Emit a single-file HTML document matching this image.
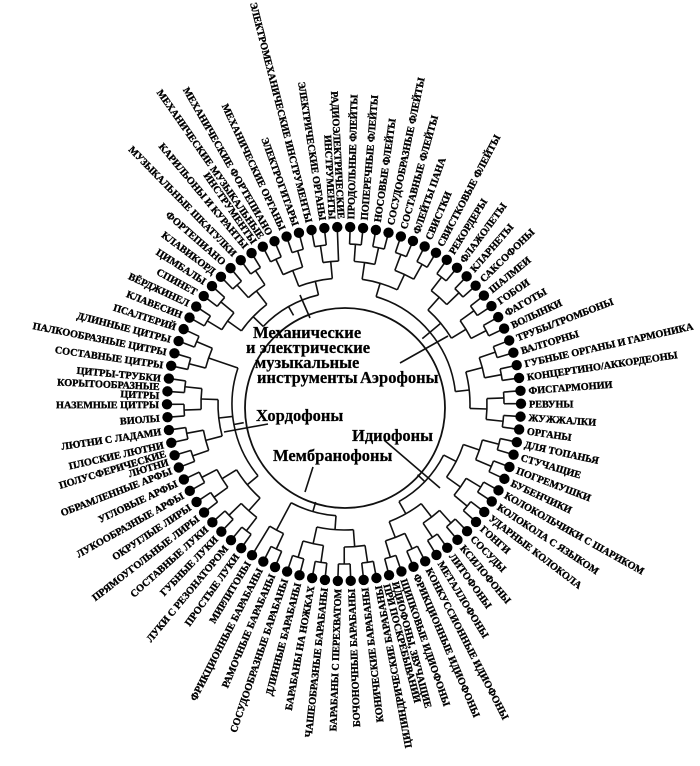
<!DOCTYPE html>
<html><head><meta charset="utf-8">
<style>
html,body{margin:0;padding:0;background:#fff;}
svg{display:block;}
.l{font-family:"Liberation Serif",serif;font-weight:bold;font-size:10.2px;fill:#000;stroke:#000;stroke-width:0.35;}
.c{font-family:"Liberation Serif",serif;font-weight:bold;font-size:16.5px;fill:#000;stroke:#000;stroke-width:0.25;}
</style></head>
<body>
<svg id="s" width="700" height="766" viewBox="0 0 700 766" xmlns="http://www.w3.org/2000/svg">
<g id="tree" stroke="#111" stroke-width="1.6" fill="none"></g>
<circle cx="345" cy="408" r="100" stroke="#111" stroke-width="1.8" fill="none"/>
<g id="dots"></g>
<g id="labels">
<text class="l">ПРОДОЛЬНЫЕ ФЛЕЙТЫ</text>
<text class="l">ПОПЕРЕЧНЫЕ ФЛЕЙТЫ</text>
<text class="l">НОСОВЫЕ ФЛЕЙТЫ</text>
<text class="l">СОСУДООБРАЗНЫЕ ФЛЕЙТЫ</text>
<text class="l">СОСТАВНЫЕ ФЛЕЙТЫ</text>
<text class="l">ФЛЕЙТЫ ПАНА</text>
<text class="l">СВИСТКИ</text>
<text class="l">СВИСТКОВЫЕ ФЛЕЙТЫ</text>
<text class="l">РЕКОРДЕРЫ</text>
<text class="l">ФЛАЖОЛЕТЫ</text>
<text class="l">КЛАРНЕТЫ</text>
<text class="l">САКСОФОНЫ</text>
<text class="l">ШАЛМЕИ</text>
<text class="l">ГОБОИ</text>
<text class="l">ФАГОТЫ</text>
<text class="l">ВОЛЫНКИ</text>
<text class="l">ТРУБЫ/ТРОМБОНЫ</text>
<text class="l">ВАЛТОРНЫ</text>
<text class="l">ГУБНЫЕ ОРГАНЫ И ГАРМОНИКА</text>
<text class="l">КОНЦЕРТИНО/АККОРДЕОНЫ</text>
<text class="l">ФИСГАРМОНИИ</text>
<text class="l">РЕВУНЫ</text>
<text class="l">ЖУЖЖАЛКИ</text>
<text class="l">ОРГАНЫ</text>
<text class="l">ДЛЯ ТОПАНЬЯ</text>
<text class="l">СТУЧАЩИЕ</text>
<text class="l">ПОГРЕМУШКИ</text>
<text class="l">БУБЕНЧИКИ</text>
<text class="l">КОЛОКОЛЬЧИКИ С ШАРИКОМ</text>
<text class="l">КОЛОКОЛА С ЯЗЫКОМ</text>
<text class="l">УДАРНЫЕ КОЛОКОЛА</text>
<text class="l">ГОНГИ</text>
<text class="l">СОСУДЫ</text>
<text class="l">КСИЛОФОНЫ</text>
<text class="l">ЛИТОФОНЫ</text>
<text class="l">МЕТАЛЛОФОНЫ</text>
<text class="l">КОНКУССИОННЫЕ ИДИОФОНЫ</text>
<text class="l">ФРИКЦИОННЫЕ ИДИОФОНЫ</text>
<text class="l">ЩИПКОВЫЕ ИДИОФОНЫ</text>
<text class="l"><tspan>ИДИОФОНЫ, ЗВУЧАЩИЕ</tspan><tspan>ПРИ ПОСКРЕБЫВАНИИ</tspan></text>
<text class="l">ЦИЛИНДРИЧЕСКИЕ БАРАБАНЫ</text>
<text class="l">КОНИЧЕСКИЕ БАРАБАНЫ</text>
<text class="l">БОЧОНОЧНЫЕ БАРАБАНЫ</text>
<text class="l">БАРАБАНЫ С ПЕРЕХВАТОМ</text>
<text class="l">ЧАШЕОБРАЗНЫЕ БАРАБАНЫ</text>
<text class="l">БАРАБАНЫ НА НОЖКАХ</text>
<text class="l">ДЛИННЫЕ БАРАБАНЫ</text>
<text class="l">СОСУДООБРАЗНЫЕ БАРАБАНЫ</text>
<text class="l">РАМОЧНЫЕ БАРАБАНЫ</text>
<text class="l">ФРИКЦИОННЫЕ БАРАБАНЫ</text>
<text class="l">МИРЛИТОНЫ</text>
<text class="l">ПРОСТЫЕ ЛУКИ</text>
<text class="l">ЛУКИ С РЕЗОНАТОРОМ</text>
<text class="l">ГУБНЫЕ ЛУКИ</text>
<text class="l">СОСТАВНЫЕ ЛУКИ</text>
<text class="l">ПРЯМОУГОЛЬНЫЕ ЛИРЫ</text>
<text class="l">ОКРУГЛЫЕ ЛИРЫ</text>
<text class="l">ЛУКООБРАЗНЫЕ АРФЫ</text>
<text class="l">УГЛОВЫЕ АРФЫ</text>
<text class="l">ОБРАМЛЕННЫЕ АРФЫ</text>
<text class="l"><tspan>ПОЛУСФЕРИЧЕСКИЕ</tspan><tspan>ЛЮТНИ</tspan></text>
<text class="l">ПЛОСКИЕ ЛЮТНИ</text>
<text class="l">ЛЮТНИ С ЛАДАМИ</text>
<text class="l">ВИОЛЫ</text>
<text class="l">НАЗЕМНЫЕ ЦИТРЫ</text>
<text class="l"><tspan>КОРЫТООБРАЗНЫЕ</tspan><tspan>ЦИТРЫ</tspan></text>
<text class="l">ЦИТРЫ-ТРУБКИ</text>
<text class="l">СОСТАВНЫЕ ЦИТРЫ</text>
<text class="l">ПАЛКООБРАЗНЫЕ ЦИТРЫ</text>
<text class="l">ДЛИННЫЕ ЦИТРЫ</text>
<text class="l">ПСАЛТЕРИЙ</text>
<text class="l">КЛАВЕСИН</text>
<text class="l">ВЁРДЖИНЕЛ</text>
<text class="l">СПИНЕТ</text>
<text class="l">ЦИМБАЛЫ</text>
<text class="l">КЛАВИКОРД</text>
<text class="l">ФОРТЕПИАНО</text>
<text class="l">МУЗЫКАЛЬНЫЕ ШКАТУЛКИ</text>
<text class="l">КАРИЛЬОНЫ И КУРАНТЫ</text>
<text class="l"><tspan>МЕХАНИЧЕСКИЕ МУЗЫКАЛЬНЫЕ</tspan><tspan>ИНСТРУМЕНТЫ</tspan></text>
<text class="l">МЕХАНИЧЕСКИЕ ФОРТЕПИАНО</text>
<text class="l">МЕХАНИЧЕСКИЕ ОРГАНЫ</text>
<text class="l">ЭЛЕКТРОГИТАРЫ</text>
<text class="l">ЭЛЕКТРОМЕХАНИЧЕСКИЕ ИНСТРУМЕНТЫ</text>
<text class="l">ЭЛЕКТРИЧЕСКИЕ ОРГАНЫ</text>
<text class="l"><tspan>РАДИОЭЛЕКТРИЧЕСКИЕ</tspan><tspan>ИНСТРУМЕНТЫ</tspan></text>
</g>
<g stroke="#111" stroke-width="1.6">
<line x1="400" y1="363" x2="448" y2="336"/>
<line x1="268" y1="424" x2="224" y2="432"/>
<line x1="384" y1="440" x2="440" y2="488"/>
<line x1="313" y1="467" x2="305" y2="492"/>
<line x1="310" y1="318" x2="300" y2="295"/>
</g>
<text class="c" x="253" y="338">Механические</text>
<text class="c" x="246" y="353">и электрические</text>
<text class="c" x="255" y="368">музыкальные</text>
<text class="c" x="257" y="383">инструменты</text>
<text class="c" x="360" y="383">Аэрофоны</text>
<text class="c" x="256" y="421">Хордофоны</text>
<text class="c" x="352" y="441">Идиофоны</text>
<text class="c" x="273" y="461">Мембранофоны</text>
</svg>
<script>
(function(){
var NS="http://www.w3.org/2000/svg";
var cx=344,cy=404,R=177,N=86,step=360/N,start=2;
function pt(r,d){var a=d*Math.PI/180;return [cx+r*Math.sin(a),cy-r*Math.cos(a)];}
var tree=document.getElementById('tree'),dots=document.getElementById('dots');
function el(p,tag,at){var e=document.createElementNS(NS,tag);for(var k in at)e.setAttribute(k,at[k]);p.appendChild(e);return e;}
function line(r1,r2,d){var a=pt(r1,d),b=pt(r2,d);el(tree,'line',{x1:a[0],y1:a[1],x2:b[0],y2:b[1]});}
function arc(r,d1,d2){var a=pt(r,d1),b=pt(r,d2);el(tree,'path',{d:'M'+a[0]+' '+a[1]+' A'+r+' '+r+' 0 0 1 '+b[0]+' '+b[1]});}
var labels=document.querySelectorAll('#labels text');
for(var i=0;i<N;i++){
  var d=start+i*step;var p=pt(R,d);
  el(dots,'circle',{cx:p[0],cy:p[1],r:5.2,fill:'#000'});
  var t=labels[i];var inward=(d>167);
  var dd=d;
  if(d>270) dd=d-0.4*(360-d)*(d-270)/90;
  else if(d<60) dd=d-0.25*d*(60-d)/60;
  var rot=inward?dd+90:dd-90;var x=inward?-8:8;
  t.setAttribute('transform','translate('+p[0]+' '+p[1]+') rotate('+rot+')');
  t.setAttribute('text-anchor',inward?'end':'start');
  var ts=t.querySelectorAll('tspan');
  if(ts.length){ts[0].setAttribute('x',x);ts[0].setAttribute('y',-1);ts[1].setAttribute('x',x);ts[1].setAttribute('y',8);}
  else{t.setAttribute('x',x);t.setAttribute('y',3.8);}
}
var cats=[[0,23],[24,39],[40,50],[51,70],[71,85]];
var radii=[160,143,126];
cats.forEach(function(c){
  var nodes=[];for(var i=c[0];i<=c[1];i++)nodes.push({a:start+i*step,r:R-4});
  radii.forEach(function(rr){
    var nn=[];
    for(var j=0;j<nodes.length;j+=2){
      if(j+1<nodes.length){var A=nodes[j],B=nodes[j+1];
        line(A.r,rr,A.a);line(B.r,rr,B.a);arc(rr,A.a,B.a);
        nn.push({a:(A.a+B.a)/2,r:rr});}
      else nn.push(nodes[j]);
    }
    nodes=nn;
  });
  if(nodes.length>1){var rr=112;nodes.forEach(function(n){line(n.r,rr,n.a);});arc(rr,nodes[0].a,nodes[nodes.length-1].a);
    line(rr,102,(nodes[0].a+nodes[nodes.length-1].a)/2);}
  else line(nodes[0].r,102,nodes[0].a);
});
})();
</script>
</body></html>
